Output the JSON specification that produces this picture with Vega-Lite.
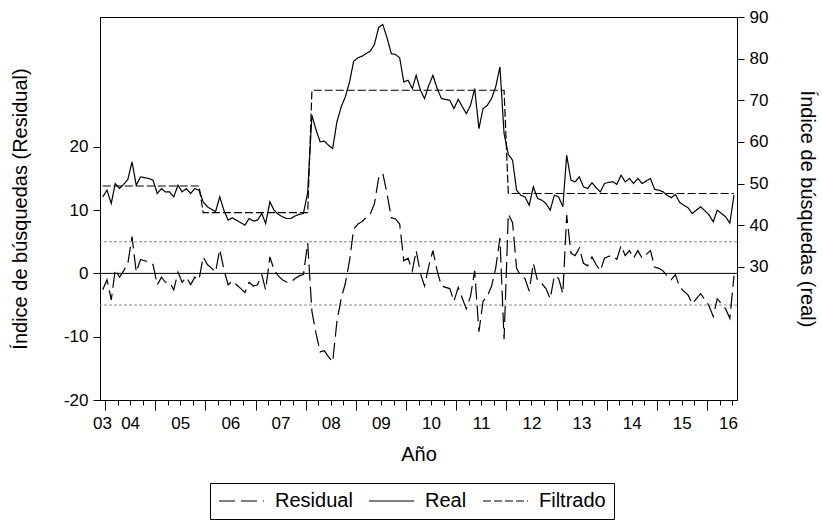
{
  "$schema": "https://vega.github.io/schema/vega-lite/v6.json",
  "width": 637,
  "height": 383,
  "autosize": {"type": "none"},
  "padding": {"left": 100, "top": 17, "right": 85, "bottom": 121},
  "background": "white",
  "config": {
    "font": "Liberation Sans",
    "view": {"stroke": "black", "strokeWidth": 1},
    "axis": {"domainColor": "black", "tickColor": "black", "labelColor": "black", "titleColor": "black", "labelFontSize": 17, "titleFontSize": 20, "titleFontWeight": "normal", "grid": false, "labelFont": "Liberation Sans", "titleFont": "Liberation Sans"},
    "legend": {"orient": "none", "legendX": 110, "legendY": 466, "direction": "horizontal", "strokeColor": "black", "fillColor": "white", "padding": 8, "symbolType": "M-2.5,0H2.5", "symbolStrokeWidth": 1, "symbolSize": 324, "symbolOffset": 13.5, "symbolStrokeColor": "black", "labelFontSize": 20, "labelFont": "Liberation Sans", "labelColor": "black", "labelOffset": 23.5, "columnPadding": 14}
  },
  "datasets": {
    "d": [
      {"t": "2003-12-15", "Real": 46.8, "Filtrado": 49.4, "Residual": -2.6},
      {"t": "2004-01-15", "Real": 48.4, "Filtrado": 49.4, "Residual": -1.0},
      {"t": "2004-02-15", "Real": 45.2, "Filtrado": 49.4, "Residual": -4.2},
      {"t": "2004-03-15", "Real": 50.0, "Filtrado": 49.4, "Residual": 0.6},
      {"t": "2004-04-15", "Real": 48.8, "Filtrado": 49.4, "Residual": -0.6},
      {"t": "2004-05-15", "Real": 49.8, "Filtrado": 49.4, "Residual": 0.4},
      {"t": "2004-06-15", "Real": 51.0, "Filtrado": 49.4, "Residual": 1.6},
      {"t": "2004-07-15", "Real": 55.2, "Filtrado": 49.4, "Residual": 5.8},
      {"t": "2004-08-15", "Real": 49.6, "Filtrado": 49.4, "Residual": 0.2},
      {"t": "2004-09-15", "Real": 51.6, "Filtrado": 49.4, "Residual": 2.2},
      {"t": "2004-10-15", "Real": 51.4, "Filtrado": 49.4, "Residual": 2.0},
      {"t": "2004-11-15", "Real": 51.2, "Filtrado": 49.4, "Residual": 1.8},
      {"t": "2004-12-15", "Real": 50.8, "Filtrado": 49.4, "Residual": 1.4},
      {"t": "2005-01-15", "Real": 47.6, "Filtrado": 49.4, "Residual": -1.8},
      {"t": "2005-02-15", "Real": 48.8, "Filtrado": 49.4, "Residual": -0.6},
      {"t": "2005-03-15", "Real": 48.0, "Filtrado": 49.4, "Residual": -1.4},
      {"t": "2005-04-15", "Real": 48.0, "Filtrado": 49.4, "Residual": -1.4},
      {"t": "2005-05-15", "Real": 46.8, "Filtrado": 49.4, "Residual": -2.6},
      {"t": "2005-06-15", "Real": 49.6, "Filtrado": 49.4, "Residual": 0.2},
      {"t": "2005-07-15", "Real": 48.0, "Filtrado": 49.4, "Residual": -1.4},
      {"t": "2005-08-15", "Real": 48.8, "Filtrado": 49.4, "Residual": -0.6},
      {"t": "2005-09-15", "Real": 47.6, "Filtrado": 49.4, "Residual": -1.8},
      {"t": "2005-10-15", "Real": 48.8, "Filtrado": 49.4, "Residual": -0.6},
      {"t": "2005-11-15", "Real": 48.4, "Filtrado": 49.4, "Residual": -1.0},
      {"t": "2005-12-15", "Real": 45.6, "Filtrado": 43.0, "Residual": 2.6},
      {"t": "2006-01-15", "Real": 44.4, "Filtrado": 43.0, "Residual": 1.4},
      {"t": "2006-02-15", "Real": 43.8, "Filtrado": 43.0, "Residual": 0.8},
      {"t": "2006-03-15", "Real": 43.2, "Filtrado": 43.0, "Residual": 0.2},
      {"t": "2006-04-15", "Real": 46.8, "Filtrado": 43.0, "Residual": 3.8},
      {"t": "2006-05-15", "Real": 43.6, "Filtrado": 43.0, "Residual": 0.6},
      {"t": "2006-06-15", "Real": 41.2, "Filtrado": 43.0, "Residual": -1.8},
      {"t": "2006-07-15", "Real": 41.8, "Filtrado": 43.0, "Residual": -1.2},
      {"t": "2006-08-15", "Real": 41.2, "Filtrado": 43.0, "Residual": -1.8},
      {"t": "2006-09-15", "Real": 40.6, "Filtrado": 43.0, "Residual": -2.4},
      {"t": "2006-10-15", "Real": 40.0, "Filtrado": 43.0, "Residual": -3.0},
      {"t": "2006-11-15", "Real": 41.6, "Filtrado": 43.0, "Residual": -1.4},
      {"t": "2006-12-15", "Real": 41.0, "Filtrado": 43.0, "Residual": -2.0},
      {"t": "2007-01-15", "Real": 41.2, "Filtrado": 43.0, "Residual": -1.8},
      {"t": "2007-02-15", "Real": 42.8, "Filtrado": 43.0, "Residual": -0.2},
      {"t": "2007-03-15", "Real": 40.4, "Filtrado": 43.0, "Residual": -2.6},
      {"t": "2007-04-15", "Real": 45.6, "Filtrado": 43.0, "Residual": 2.6},
      {"t": "2007-05-15", "Real": 43.6, "Filtrado": 43.0, "Residual": 0.6},
      {"t": "2007-06-15", "Real": 42.6, "Filtrado": 43.0, "Residual": -0.4},
      {"t": "2007-07-15", "Real": 42.0, "Filtrado": 43.0, "Residual": -1.0},
      {"t": "2007-08-15", "Real": 41.6, "Filtrado": 43.0, "Residual": -1.4},
      {"t": "2007-09-15", "Real": 41.6, "Filtrado": 43.0, "Residual": -1.4},
      {"t": "2007-10-15", "Real": 42.2, "Filtrado": 43.0, "Residual": -0.8},
      {"t": "2007-11-15", "Real": 42.6, "Filtrado": 43.0, "Residual": -0.4},
      {"t": "2007-12-15", "Real": 42.8, "Filtrado": 43.0, "Residual": -0.2},
      {"t": "2008-01-15", "Real": 47.8, "Filtrado": 43.0, "Residual": 4.8},
      {"t": "2008-02-15", "Real": 66.4, "Filtrado": 72.4, "Residual": -6.0},
      {"t": "2008-03-15", "Real": 63.0, "Filtrado": 72.4, "Residual": -9.4},
      {"t": "2008-04-15", "Real": 60.0, "Filtrado": 72.4, "Residual": -12.4},
      {"t": "2008-05-15", "Real": 60.2, "Filtrado": 72.4, "Residual": -12.2},
      {"t": "2008-06-15", "Real": 59.2, "Filtrado": 72.4, "Residual": -13.2},
      {"t": "2008-07-15", "Real": 58.4, "Filtrado": 72.4, "Residual": -14.0},
      {"t": "2008-08-15", "Real": 64.8, "Filtrado": 72.4, "Residual": -7.6},
      {"t": "2008-09-15", "Real": 68.4, "Filtrado": 72.4, "Residual": -4.0},
      {"t": "2008-10-15", "Real": 70.8, "Filtrado": 72.4, "Residual": -1.6},
      {"t": "2008-11-15", "Real": 74.4, "Filtrado": 72.4, "Residual": 2.0},
      {"t": "2008-12-15", "Real": 79.4, "Filtrado": 72.4, "Residual": 7.0},
      {"t": "2009-01-15", "Real": 80.2, "Filtrado": 72.4, "Residual": 7.8},
      {"t": "2009-02-15", "Real": 80.6, "Filtrado": 72.4, "Residual": 8.2},
      {"t": "2009-03-15", "Real": 81.2, "Filtrado": 72.4, "Residual": 8.8},
      {"t": "2009-04-15", "Real": 81.8, "Filtrado": 72.4, "Residual": 9.4},
      {"t": "2009-05-15", "Real": 83.4, "Filtrado": 72.4, "Residual": 11.0},
      {"t": "2009-06-15", "Real": 87.5, "Filtrado": 72.4, "Residual": 15.1},
      {"t": "2009-07-15", "Real": 88.2, "Filtrado": 72.4, "Residual": 15.8},
      {"t": "2009-08-15", "Real": 85.0, "Filtrado": 72.4, "Residual": 12.6},
      {"t": "2009-09-15", "Real": 81.2, "Filtrado": 72.4, "Residual": 8.8},
      {"t": "2009-10-15", "Real": 81.0, "Filtrado": 72.4, "Residual": 8.6},
      {"t": "2009-11-15", "Real": 80.2, "Filtrado": 72.4, "Residual": 7.8},
      {"t": "2009-12-15", "Real": 74.4, "Filtrado": 72.4, "Residual": 2.0},
      {"t": "2010-01-15", "Real": 74.8, "Filtrado": 72.4, "Residual": 2.4},
      {"t": "2010-02-15", "Real": 72.8, "Filtrado": 72.4, "Residual": 0.4},
      {"t": "2010-03-15", "Real": 76.0, "Filtrado": 72.4, "Residual": 3.6},
      {"t": "2010-04-15", "Real": 72.4, "Filtrado": 72.4, "Residual": 0.0},
      {"t": "2010-05-15", "Real": 70.4, "Filtrado": 72.4, "Residual": -2.0},
      {"t": "2010-06-15", "Real": 73.6, "Filtrado": 72.4, "Residual": 1.2},
      {"t": "2010-07-15", "Real": 76.0, "Filtrado": 72.4, "Residual": 3.6},
      {"t": "2010-08-15", "Real": 72.8, "Filtrado": 72.4, "Residual": 0.4},
      {"t": "2010-09-15", "Real": 70.4, "Filtrado": 72.4, "Residual": -2.0},
      {"t": "2010-10-15", "Real": 70.2, "Filtrado": 72.4, "Residual": -2.2},
      {"t": "2010-11-15", "Real": 70.0, "Filtrado": 72.4, "Residual": -2.4},
      {"t": "2010-12-15", "Real": 68.0, "Filtrado": 72.4, "Residual": -4.4},
      {"t": "2011-01-15", "Real": 70.2, "Filtrado": 72.4, "Residual": -2.2},
      {"t": "2011-02-15", "Real": 68.4, "Filtrado": 72.4, "Residual": -4.0},
      {"t": "2011-03-15", "Real": 66.8, "Filtrado": 72.4, "Residual": -5.6},
      {"t": "2011-04-15", "Real": 68.8, "Filtrado": 72.4, "Residual": -3.6},
      {"t": "2011-05-15", "Real": 72.8, "Filtrado": 72.4, "Residual": 0.4},
      {"t": "2011-06-15", "Real": 63.2, "Filtrado": 72.4, "Residual": -9.2},
      {"t": "2011-07-15", "Real": 68.0, "Filtrado": 72.4, "Residual": -4.4},
      {"t": "2011-08-15", "Real": 68.8, "Filtrado": 72.4, "Residual": -3.6},
      {"t": "2011-09-15", "Real": 70.4, "Filtrado": 72.4, "Residual": -2.0},
      {"t": "2011-10-15", "Real": 73.2, "Filtrado": 72.4, "Residual": 0.8},
      {"t": "2011-11-15", "Real": 78.0, "Filtrado": 72.4, "Residual": 5.6},
      {"t": "2011-12-15", "Real": 62.0, "Filtrado": 72.4, "Residual": -10.4},
      {"t": "2012-01-15", "Real": 57.0, "Filtrado": 47.6, "Residual": 9.4},
      {"t": "2012-02-15", "Real": 55.6, "Filtrado": 47.6, "Residual": 8.0},
      {"t": "2012-03-15", "Real": 48.4, "Filtrado": 47.6, "Residual": 0.8},
      {"t": "2012-04-15", "Real": 47.2, "Filtrado": 47.6, "Residual": -0.4},
      {"t": "2012-05-15", "Real": 46.8, "Filtrado": 47.6, "Residual": -0.8},
      {"t": "2012-06-15", "Real": 44.8, "Filtrado": 47.6, "Residual": -2.8},
      {"t": "2012-07-15", "Real": 49.2, "Filtrado": 47.6, "Residual": 1.6},
      {"t": "2012-08-15", "Real": 46.4, "Filtrado": 47.6, "Residual": -1.2},
      {"t": "2012-09-15", "Real": 46.0, "Filtrado": 47.6, "Residual": -1.6},
      {"t": "2012-10-15", "Real": 45.2, "Filtrado": 47.6, "Residual": -2.4},
      {"t": "2012-11-15", "Real": 43.6, "Filtrado": 47.6, "Residual": -4.0},
      {"t": "2012-12-15", "Real": 47.2, "Filtrado": 47.6, "Residual": -0.4},
      {"t": "2013-01-15", "Real": 46.8, "Filtrado": 47.6, "Residual": -0.8},
      {"t": "2013-02-15", "Real": 44.4, "Filtrado": 47.6, "Residual": -3.2},
      {"t": "2013-03-15", "Real": 56.8, "Filtrado": 47.6, "Residual": 9.2},
      {"t": "2013-04-15", "Real": 50.8, "Filtrado": 47.6, "Residual": 3.2},
      {"t": "2013-05-15", "Real": 50.4, "Filtrado": 47.6, "Residual": 2.8},
      {"t": "2013-06-15", "Real": 51.6, "Filtrado": 47.6, "Residual": 4.0},
      {"t": "2013-07-15", "Real": 49.2, "Filtrado": 47.6, "Residual": 1.6},
      {"t": "2013-08-15", "Real": 48.8, "Filtrado": 47.6, "Residual": 1.2},
      {"t": "2013-09-15", "Real": 50.2, "Filtrado": 47.6, "Residual": 2.6},
      {"t": "2013-10-15", "Real": 49.0, "Filtrado": 47.6, "Residual": 1.4},
      {"t": "2013-11-15", "Real": 48.0, "Filtrado": 47.6, "Residual": 0.4},
      {"t": "2013-12-15", "Real": 50.0, "Filtrado": 47.6, "Residual": 2.4},
      {"t": "2014-01-15", "Real": 50.3, "Filtrado": 47.6, "Residual": 2.7},
      {"t": "2014-02-15", "Real": 50.4, "Filtrado": 47.6, "Residual": 2.8},
      {"t": "2014-03-15", "Real": 49.8, "Filtrado": 47.6, "Residual": 2.2},
      {"t": "2014-04-15", "Real": 52.0, "Filtrado": 47.6, "Residual": 4.4},
      {"t": "2014-05-15", "Real": 50.4, "Filtrado": 47.6, "Residual": 2.8},
      {"t": "2014-06-15", "Real": 51.2, "Filtrado": 47.6, "Residual": 3.6},
      {"t": "2014-07-15", "Real": 50.0, "Filtrado": 47.6, "Residual": 2.4},
      {"t": "2014-08-15", "Real": 51.2, "Filtrado": 47.6, "Residual": 3.6},
      {"t": "2014-09-15", "Real": 50.0, "Filtrado": 47.6, "Residual": 2.4},
      {"t": "2014-10-15", "Real": 50.6, "Filtrado": 47.6, "Residual": 3.0},
      {"t": "2014-11-15", "Real": 51.2, "Filtrado": 47.6, "Residual": 3.6},
      {"t": "2014-12-15", "Real": 48.6, "Filtrado": 47.6, "Residual": 1.0},
      {"t": "2015-01-15", "Real": 48.4, "Filtrado": 47.6, "Residual": 0.8},
      {"t": "2015-02-15", "Real": 48.0, "Filtrado": 47.6, "Residual": 0.4},
      {"t": "2015-03-15", "Real": 47.2, "Filtrado": 47.6, "Residual": -0.4},
      {"t": "2015-04-15", "Real": 46.6, "Filtrado": 47.6, "Residual": -1.0},
      {"t": "2015-05-15", "Real": 47.4, "Filtrado": 47.6, "Residual": -0.2},
      {"t": "2015-06-15", "Real": 45.5, "Filtrado": 47.6, "Residual": -2.1},
      {"t": "2015-07-15", "Real": 44.8, "Filtrado": 47.6, "Residual": -2.8},
      {"t": "2015-08-15", "Real": 44.2, "Filtrado": 47.6, "Residual": -3.4},
      {"t": "2015-09-15", "Real": 42.8, "Filtrado": 47.6, "Residual": -4.8},
      {"t": "2015-10-15", "Real": 43.6, "Filtrado": 47.6, "Residual": -4.0},
      {"t": "2015-11-15", "Real": 44.4, "Filtrado": 47.6, "Residual": -3.2},
      {"t": "2015-12-15", "Real": 43.5, "Filtrado": 47.6, "Residual": -4.1},
      {"t": "2016-01-15", "Real": 42.5, "Filtrado": 47.6, "Residual": -5.1},
      {"t": "2016-02-15", "Real": 40.8, "Filtrado": 47.6, "Residual": -6.8},
      {"t": "2016-03-15", "Real": 43.6, "Filtrado": 47.6, "Residual": -4.0},
      {"t": "2016-04-15", "Real": 42.8, "Filtrado": 47.6, "Residual": -4.8},
      {"t": "2016-05-15", "Real": 42.0, "Filtrado": 47.6, "Residual": -5.6},
      {"t": "2016-06-15", "Real": 40.5, "Filtrado": 47.6, "Residual": -7.1},
      {"t": "2016-07-15", "Real": 47.2, "Filtrado": 47.6, "Residual": -0.4}
    ]
  },
  "layer": [
    {
      "layer": [
        {
          "data": {"values": [{"h": 0}]},
          "mark": {"type": "rule", "color": "black", "strokeWidth": 1},
          "encoding": {
            "y": {"field": "h", "type": "quantitative", "scale": {"domain": [-20, 40.5], "nice": false, "zero": false},
              "axis": {"title": "Índice de búsquedas (Residual)", "orient": "left", "values": [-20, -10, 0, 10, 20], "tickSize": 7, "labelPadding": 5, "titlePadding": 33, "labelExpr": "datum.value < 0 ? '-' + abs(datum.value) : '' + datum.value"}}
          }
        },
        {
          "data": {"values": [{"h": 5}, {"h": -5}]},
          "mark": {"type": "rule", "color": "#8a8a8a", "strokeWidth": 1, "strokeDash": [3, 2]},
          "encoding": {
            "y": {"field": "h", "type": "quantitative", "scale": {"domain": [-20, 40.5], "nice": false, "zero": false},
              "axis": {"title": "Índice de búsquedas (Residual)", "orient": "left", "values": [-20, -10, 0, 10, 20], "tickSize": 7, "labelPadding": 5, "titlePadding": 33, "labelExpr": "datum.value < 0 ? '-' + abs(datum.value) : '' + datum.value"}}
          }
        },
        {
          "data": {"name": "d"},
          "transform": [{"fold": ["Residual"], "as": ["serie", "v"]}],
          "mark": {"type": "line", "color": "black", "strokeWidth": 1.2},
          "encoding": {
            "x": {"field": "t", "type": "temporal",
              "scale": {"type": "utc", "domain": [{"year": 2003, "month": 11, "date": 25, "utc": true}, {"year": 2016, "month": 8, "date": 6, "utc": true}]},
              "axis": {"title": null, "orient": "bottom", "labels": false, "domain": false,
                "tickSize": {"condition": {"test": "utcmonth(datum.value) == 0", "value": 10}, "value": 5},
                "values": [
                  {"year": 2004, "month": 1, "date": 1, "utc": true}, {"year": 2004, "month": 4, "date": 1, "utc": true}, {"year": 2004, "month": 7, "date": 1, "utc": true}, {"year": 2004, "month": 10, "date": 1, "utc": true},
                  {"year": 2005, "month": 1, "date": 1, "utc": true}, {"year": 2005, "month": 4, "date": 1, "utc": true}, {"year": 2005, "month": 7, "date": 1, "utc": true}, {"year": 2005, "month": 10, "date": 1, "utc": true},
                  {"year": 2006, "month": 1, "date": 1, "utc": true}, {"year": 2006, "month": 4, "date": 1, "utc": true}, {"year": 2006, "month": 7, "date": 1, "utc": true}, {"year": 2006, "month": 10, "date": 1, "utc": true},
                  {"year": 2007, "month": 1, "date": 1, "utc": true}, {"year": 2007, "month": 4, "date": 1, "utc": true}, {"year": 2007, "month": 7, "date": 1, "utc": true}, {"year": 2007, "month": 10, "date": 1, "utc": true},
                  {"year": 2008, "month": 1, "date": 1, "utc": true}, {"year": 2008, "month": 4, "date": 1, "utc": true}, {"year": 2008, "month": 7, "date": 1, "utc": true}, {"year": 2008, "month": 10, "date": 1, "utc": true},
                  {"year": 2009, "month": 1, "date": 1, "utc": true}, {"year": 2009, "month": 4, "date": 1, "utc": true}, {"year": 2009, "month": 7, "date": 1, "utc": true}, {"year": 2009, "month": 10, "date": 1, "utc": true},
                  {"year": 2010, "month": 1, "date": 1, "utc": true}, {"year": 2010, "month": 4, "date": 1, "utc": true}, {"year": 2010, "month": 7, "date": 1, "utc": true}, {"year": 2010, "month": 10, "date": 1, "utc": true},
                  {"year": 2011, "month": 1, "date": 1, "utc": true}, {"year": 2011, "month": 4, "date": 1, "utc": true}, {"year": 2011, "month": 7, "date": 1, "utc": true}, {"year": 2011, "month": 10, "date": 1, "utc": true},
                  {"year": 2012, "month": 1, "date": 1, "utc": true}, {"year": 2012, "month": 4, "date": 1, "utc": true}, {"year": 2012, "month": 7, "date": 1, "utc": true}, {"year": 2012, "month": 10, "date": 1, "utc": true},
                  {"year": 2013, "month": 1, "date": 1, "utc": true}, {"year": 2013, "month": 4, "date": 1, "utc": true}, {"year": 2013, "month": 7, "date": 1, "utc": true}, {"year": 2013, "month": 10, "date": 1, "utc": true},
                  {"year": 2014, "month": 1, "date": 1, "utc": true}, {"year": 2014, "month": 4, "date": 1, "utc": true}, {"year": 2014, "month": 7, "date": 1, "utc": true}, {"year": 2014, "month": 10, "date": 1, "utc": true},
                  {"year": 2015, "month": 1, "date": 1, "utc": true}, {"year": 2015, "month": 4, "date": 1, "utc": true}, {"year": 2015, "month": 7, "date": 1, "utc": true}, {"year": 2015, "month": 10, "date": 1, "utc": true},
                  {"year": 2016, "month": 1, "date": 1, "utc": true}, {"year": 2016, "month": 4, "date": 1, "utc": true}, {"year": 2016, "month": 7, "date": 1, "utc": true}
                ]}},
            "y": {"field": "v", "type": "quantitative", "scale": {"domain": [-20, 40.5], "nice": false, "zero": false},
              "axis": {"title": "Índice de búsquedas (Residual)", "orient": "left", "values": [-20, -10, 0, 10, 20], "tickSize": 7, "labelPadding": 5, "titlePadding": 33, "labelExpr": "datum.value < 0 ? '-' + abs(datum.value) : '' + datum.value"}},
            "strokeDash": {"field": "serie", "type": "nominal", "scale": {"domain": ["Residual", "Real", "Filtrado"], "range": [[16, 6], [1, 0], [8, 3]]}, "legend": {"title": null}}
          }
        }
      ]
    },
    {
      "data": {"name": "d"},
      "transform": [{"fold": ["Real", "Filtrado"], "as": ["serie", "v"]}],
      "mark": {"type": "line", "color": "black", "strokeWidth": 1.2},
      "encoding": {
        "x": {"field": "t", "type": "temporal",
          "scale": {"type": "utc", "domain": [{"year": 2003, "month": 11, "date": 25, "utc": true}, {"year": 2016, "month": 8, "date": 6, "utc": true}]},
          "axis": {"title": "Año", "orient": "bottom", "ticks": false, "domain": false, "labelFlush": false, "labelOverlap": false, "labelBound": false, "labelPadding": 15, "titlePadding": 13,
            "labelExpr": "utcFormat(datum.value, '%y')",
            "values": [
              {"year": 2003, "month": 12, "date": 10, "utc": true},
              {"year": 2004, "month": 7, "date": 1, "utc": true}, {"year": 2005, "month": 7, "date": 1, "utc": true}, {"year": 2006, "month": 7, "date": 1, "utc": true},
              {"year": 2007, "month": 7, "date": 1, "utc": true}, {"year": 2008, "month": 7, "date": 1, "utc": true}, {"year": 2009, "month": 7, "date": 1, "utc": true},
              {"year": 2010, "month": 7, "date": 1, "utc": true}, {"year": 2011, "month": 7, "date": 1, "utc": true}, {"year": 2012, "month": 7, "date": 1, "utc": true},
              {"year": 2013, "month": 7, "date": 1, "utc": true}, {"year": 2014, "month": 7, "date": 1, "utc": true}, {"year": 2015, "month": 7, "date": 1, "utc": true},
              {"year": 2016, "month": 6, "date": 1, "utc": true}
            ]}},
        "y": {"field": "v", "type": "quantitative", "scale": {"domain": [-2, 90], "nice": false, "zero": false},
          "axis": {"title": "Índice de búsquedas (real)", "orient": "right", "values": [30, 40, 50, 60, 70, 80, 90], "tickSize": 7, "labelPadding": 5, "titlePadding": 29}},
        "strokeDash": {"field": "serie", "type": "nominal", "scale": {"domain": ["Residual", "Real", "Filtrado"], "range": [[16, 6], [1, 0], [8, 3]]}, "legend": {"title": null}}
      }
    }
  ],
  "resolve": {"scale": {"y": "independent", "x": "independent"}}
}
